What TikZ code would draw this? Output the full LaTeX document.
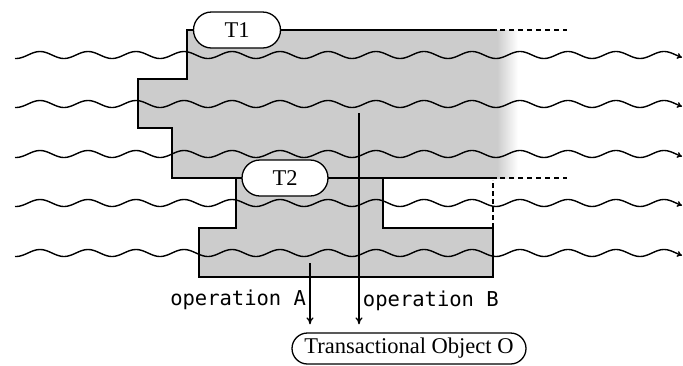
\documentclass[tikz,border=0pt]{standalone}
\usepackage{fontspec}
\setmainfont{Liberation Serif}
\setmonofont{DejaVu Sans Mono}
\usetikzlibrary{shapes.misc,arrows.meta}

\begin{document}
\begin{tikzpicture}[x=1pt,y=-1pt,
  txbox/.style={rounded rectangle,draw,fill=white,line width=1.3pt,inner sep=0pt,font=\fontsize{22.5}{22.5}\selectfont},
  edge/.style={line width=1.5pt},
  thread/.style={line width=1.4pt,-{To[length=5pt,width=6pt]}},
  opline/.style={line width=1.3pt,-{To[length=7pt,width=7pt]},shorten >=8pt},
  oplabel/.style={font=\ttfamily\fontsize{20.5}{20.5}\selectfont}]
\useasboundingbox (0,0) rectangle (683,365);
\fill[gray!40] (187,30) -- (497,30) -- (497,178) -- (172,178) -- (172,128) -- (138,128) -- (138,79) -- (187,79) -- cycle;
\shade[left color=gray!40, right color=white] (497,30) rectangle (518,178);
\fill[gray!40] (236,178) -- (383,178) -- (383,228) -- (493,228) -- (493,277) -- (199,277) -- (199,228) -- (236,228) -- cycle;
\draw[edge] (497,30) -- (187,30) -- (187,79) -- (138,79) -- (138,128) -- (172,128) -- (172,178) -- (497,178);
\draw[edge] (236,178) -- (236,228) -- (199,228) -- (199,277) -- (493,277) -- (493,228) -- (383,228) -- (383,178);
\draw[edge,dash pattern=on 5pt off 4pt] (500,30) -- (567,30);
\draw[edge,dash pattern=on 5pt off 4pt] (500,178) -- (567,178);
\draw[edge,dash pattern=on 5pt off 3pt] (493,228) -- (493,180);
\foreach \ty in {55,104,154,203,253}
  \draw[thread] plot[domain=15:682,samples=320] (\x,{\ty-3.5*cos(7.5*(\x-40))});
\node[txbox,minimum width=87pt,minimum height=36pt] (t1) at (237,30) {T1};
\node[txbox,minimum width=86pt,minimum height=36pt] (t2) at (285,178) {T2};
\node[txbox,minimum width=234pt,minimum height=31pt] (obj) at (409,348.5) {Transactional Object O};
\coordinate (opA) at (310,263);
\coordinate (opB) at (359,113);
\draw[opline] (opA) -- (opA |- obj.north) node[oplabel,pos=0.53,left] {operation A};
\draw[opline] (opB) -- (opB |- obj.north) node[oplabel,pos=0.855,right] {operation B};
\end{tikzpicture}
\end{document}
